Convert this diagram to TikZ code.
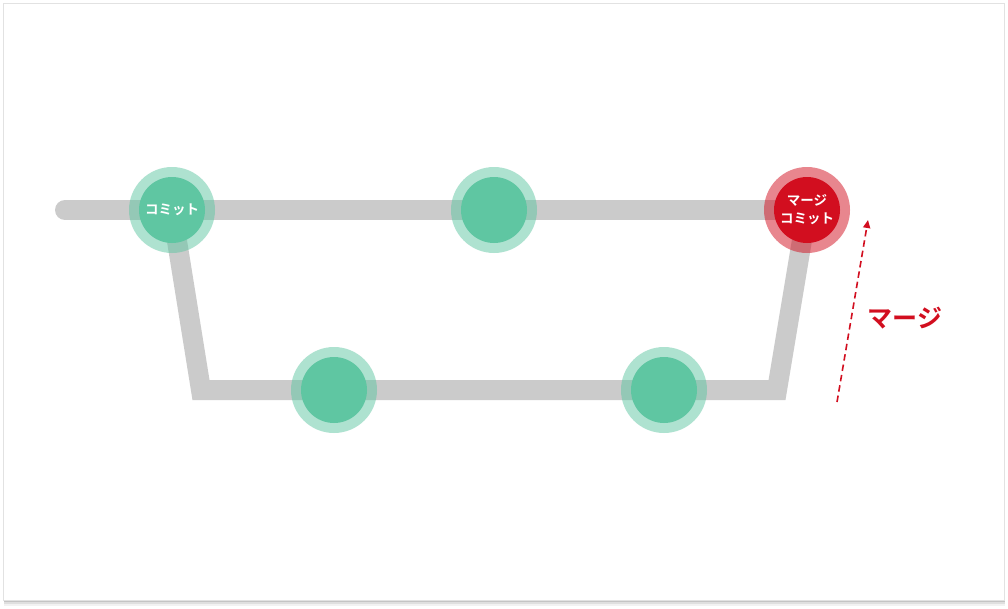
\documentclass[tikz,border=0pt]{standalone}
\usepackage{fontspec}
\newfontfamily\cjk{Noto Sans CJK JP}[BoldFont={Noto Sans CJK JP Bold}]
\usetikzlibrary{arrows.meta}
\definecolor{linegray}{HTML}{CBCBCB}
\definecolor{cgreen}{HTML}{5FC6A2}
\definecolor{cred}{HTML}{D20E1F}
\definecolor{cardedge}{HTML}{E2E2E2}
\tikzset{
  branch/.style={draw=linegray, line width=20pt, line join=miter},
  halo/.style={circle, minimum size=86pt, inner sep=0pt, fill=#1, fill opacity=0.5},
  core/.style={circle, minimum size=66pt, inner sep=0pt, fill=#1, text=white, font=\cjk\bfseries\fontsize{13.5}{18}\selectfont, align=center},
  mergearrow/.style={draw=cred, line width=1.6pt, dash pattern=on 6.5pt off 4pt, -{Triangle[length=8pt,width=7pt]}},
  mergelabel/.style={text=cred, font=\cjk\bfseries\fontsize{25}{28}\selectfont}
}
\begin{document}
\begin{tikzpicture}[x=1pt,y=-1pt]
\useasboundingbox (0,0) rectangle (1008,608);
% card
\fill[black, opacity=0.05] (4,600) rectangle (1005,606);
\fill[black, opacity=0.08] (4,600) rectangle (1005,604);
\fill[black, opacity=0.12] (4,600) rectangle (1005,602);
\draw[cardedge, fill=white, line width=1pt] (3,3) rectangle (1004,600);
% coordinates
\coordinate (c1) at (172,210);
\coordinate (c2) at (494,210);
\coordinate (c3) at (334,390);
\coordinate (c4) at (664,390);
\coordinate (m) at (807,210);
\coordinate (start) at (65,210);
\coordinate (bl) at (201,390);
\coordinate (br) at (777,390);
% branches
\draw[branch, line cap=round] (start) -- (m);
\draw[branch] (c1) -- (bl) -- (br) -- (m);
% commits
\node[halo=cgreen] (h1) at (c1) {};
\node[halo=cgreen] (h2) at (c2) {};
\node[halo=cgreen] (h3) at (c3) {};
\node[halo=cgreen] (h4) at (c4) {};
\node[halo=cred] (hm) at (m) {};
\node[core=cgreen] (n1) at (c1) {コミット};
\node[core=cgreen] (n2) at (c2) {};
\node[core=cgreen] (n3) at (c3) {};
\node[core=cgreen] (n4) at (c4) {};
\node[core=cred] (nm) at (m) {マージ\\コミット};
% merge arrow
\coordinate (a0) at (837,402);
\coordinate (a1) at (868,220);
\draw[mergearrow] (a0) -- (a1);
\node[mergelabel] (lbl) at (905,318) {マージ};
\end{tikzpicture}
\end{document}
